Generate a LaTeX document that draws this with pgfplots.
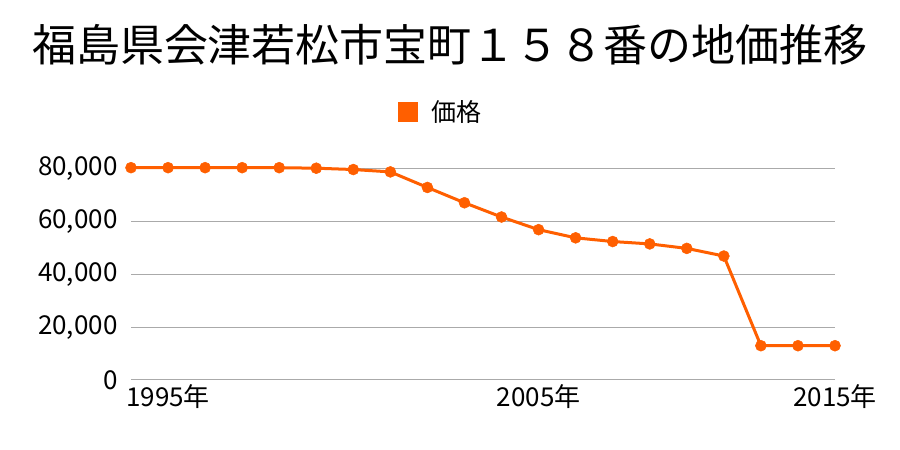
\documentclass[border=0pt]{standalone}
\usepackage{pgfplots}
\pgfplotsset{compat=1.18}
\usepackage{fontspec}
\setmainfont{Noto Sans CJK JP}
\definecolor{linecol}{HTML}{FF5F00}
\definecolor{gridgray}{HTML}{AAAAAA}
\begin{document}
\begin{tikzpicture}[x=1pt,y=1pt]
\useasboundingbox (0,0) rectangle (900,450);
\node[font=\fontsize{44}{50}\selectfont] at (450,405) {福島県会津若松市宝町１５８番の地価推移};
\fill[linecol] (398,328) rectangle (418,348);
\node[anchor=west,font=\fontsize{25}{30}\selectfont] at (428,338) {価格};
\begin{axis}[
  at={(131pt,70pt)}, anchor=south west,
  scale only axis, width=704pt, height=211pt,
  xmin=0, xmax=19, ymin=0, ymax=80000,
  axis line style={draw=none},
  major tick length=0pt,
  xmajorgrids=false,
  ymajorgrids=true, grid style={gridgray, line width=1pt},
  ytick={0,20000,40000,60000,80000},
  xtick={1,11,19},
  xticklabels={1995年,2005年,2015年},
  /pgf/number format/assume math mode=true,
  /pgf/number format/1000 sep={,},
  scaled y ticks=false,
  yticklabel style={font=\fontsize{26}{30}\selectfont, xshift=-10pt},
  xticklabel style={font=\fontsize{26}{30}\selectfont, yshift=-1pt},
  clip=false,
]
\addplot[linecol, line width=3pt, mark=*, mark size=5.5pt, mark options={solid, fill=linecol, draw=linecol, line width=0.5pt}] coordinates {
(0,80500) (1,80500) (2,80500) (3,80500) (4,80500) (5,80300) (6,79800) (7,78900)
(8,73000) (9,67200) (10,61800) (11,57000) (12,53900) (13,52500) (14,51600)
(15,49900) (16,47000) (17,13000) (18,13000) (19,13000)
};
\end{axis}
\end{tikzpicture}
\end{document}
